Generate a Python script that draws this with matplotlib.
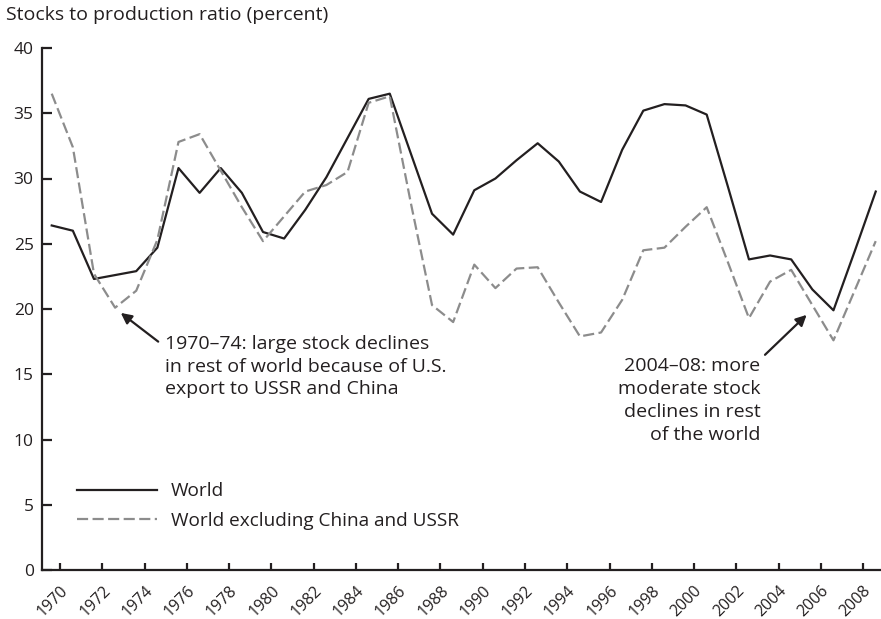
import matplotlib
matplotlib.use("Agg")
import matplotlib.pyplot as plt
import numpy as np

# annual data, 1970-2009
years = np.arange(1970, 2010)
world = [26.4, 26.0, 22.3, 22.6, 22.9, 24.7, 30.8, 28.9, 30.8, 28.9,
         25.9, 25.4, 27.6, 30.1, 33.1, 36.1, 36.5, 31.9, 27.3, 25.7,
         29.1, 30.0, 31.4, 32.7, 31.3, 29.0, 28.2, 32.2, 35.2, 35.7,
         35.6, 34.9, 29.4, 23.8, 24.1, 23.8, 21.5, 19.9, 24.4, 29.0]
world_ex = [36.5, 32.4, 22.7, 20.1, 21.4, 25.3, 32.8, 33.4, 30.6, 27.8,
            25.2, 27.1, 29.0, 29.5, 30.5, 35.8, 36.3, 28.1, 20.3, 19.0,
            23.4, 21.6, 23.1, 23.2, 20.5, 17.9, 18.2, 20.7, 24.5, 24.7,
            26.3, 27.8, 23.6, 19.3, 22.1, 23.0, 20.3, 17.6, 21.4, 25.2]
tick_years = np.arange(1970, 2010, 2)
yticks = [0, 5, 10, 15, 20, 25, 30, 35, 40]

ink = "#231f20"
grey = "#8c8c8c"
plt.rcParams["font.family"] = ["Open Sans", "DejaVu Sans"]

fig = plt.figure(figsize=(8.81, 6.19), dpi=100)
ax = fig.add_axes([42 / 881, 49 / 619, 839 / 881, 522 / 619])

ax.plot(years, world, color=ink, lw=1.6, label="World")
ax.plot(years, world_ex, color=grey, lw=1.6, dashes=(5, 2),
        label="World excluding China and USSR")

ax.set_xlim(1969.54, 2009.25)
ax.set_ylim(0, 40)
ax.set_yticks(yticks)
ax.set_xticks(tick_years + 0.4)
ax.set_xticklabels([str(y) for y in tick_years])

for s in ["top", "right"]:
    ax.spines[s].set_visible(False)
for s in ["left", "bottom"]:
    ax.spines[s].set_linewidth(1.6)
    ax.spines[s].set_color(ink)

ax.tick_params(axis="y", direction="in", length=7, width=1.6, color=ink,
               labelsize=12.5, labelcolor=ink, pad=6)
ax.tick_params(axis="x", direction="in", length=5, width=1.6, color=ink,
               labelsize=11.5, labelcolor=ink, pad=9)
for lab in ax.get_xticklabels():
    lab.set_rotation(45)
    lab.set_rotation_mode("anchor")
    lab.set_ha("right")
    lab.set_va("top")

fig.text(6 / 881, 1 - 6 / 619, "Stocks to production ratio (percent)",
         fontsize=14, color=ink, va="top", ha="left")

# annotations
ax.text(1975.36, 18.0,
        "1970\u201374: large stock declines\nin rest of world because of U.S.\nexport to USSR and China",
        fontsize=14, color=ink, ha="left", va="top", linespacing=1.33)
ax.annotate("", xy=(1973.27, 19.7), xytext=(1975.04, 17.5),
            arrowprops=dict(arrowstyle="-|>", lw=1.6, color=ink, mutation_scale=16,
                            shrinkA=0, shrinkB=0))
ax.text(2003.55, 16.3,
        "2004\u201308: more\nmoderate stock\ndeclines in rest\nof the world",
        fontsize=14, color=ink, ha="right", va="top", linespacing=1.34,
        multialignment="right")
ax.annotate("", xy=(2005.73, 19.55), xytext=(2003.76, 16.49),
            arrowprops=dict(arrowstyle="-|>", lw=1.6, color=ink, mutation_scale=16,
                            shrinkA=0, shrinkB=0))

leg = ax.legend(loc="upper left", bbox_to_anchor=(0.0417, 0.168), frameon=False,
                fontsize=13.7, handlelength=4.2, handletextpad=0.75,
                borderpad=0, borderaxespad=0, labelspacing=0.6)
for t in leg.get_texts():
    t.set_color(ink)

fig.savefig("out.png", dpi=100)
